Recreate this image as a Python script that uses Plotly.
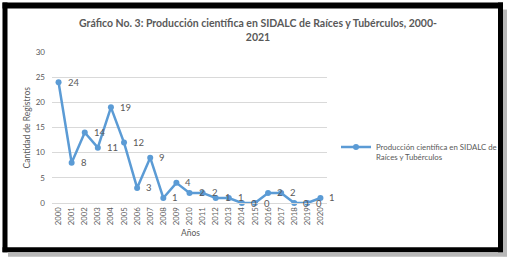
import plotly.graph_objects as go

years = [str(y) for y in range(2000, 2021)]
registros = [24, 8, 14, 11, 19, 12, 3, 9, 1, 4, 2, 2, 1, 1, 0, 0, 2, 2, 0, 0, 1]
series_name = "Producción científica en SIDALC de<br>Raíces y Tubérculos"
title_text = "<b>Gráfico No. 3: Producción científica en SIDALC de Raíces y Tubérculos, 2000-<br>2021</b>"
y_title = "Cantidad de Registros"
x_title = "Años"

W, H = 512, 263
L, R, T, B = 52, 327, 51.5, 202.7
FONT = "Lato"
GRAY = "#595959"
BLUE = "#5B9BD5"

def px(x):
    return (x - L) / (R - L)

def py(y):
    return (B - y) / (B - T)

fig = go.Figure()
fig.add_trace(go.Scatter(
    x=years, y=registros, mode="lines+markers",
    name=series_name,
    line=dict(color=BLUE, width=2.5),
    marker=dict(color=BLUE, size=6),
    cliponaxis=False,
))

annotations = []
for i, v in enumerate(registros):
    annotations.append(dict(x=i, y=v, xref="x", yref="y", text=str(v), showarrow=False,
                            xanchor="left", yanchor="middle", xshift=7,
                            font=dict(family=FONT, size=9.5, color=GRAY)))

def seg(x0, y0, x1, y1, color, width):
    return dict(type="line", xref="paper", yref="paper", x0=px(x0), x1=px(x1), y0=py(y0), y1=py(y1),
                line=dict(color=color, width=width), layer="above")

shapes = [
    seg(505, 9, 505, 256, "#b8b8b8", 4),
    seg(8, 254.5, 507, 254.5, "#b8b8b8", 4),
    seg(2.5, 5, 503, 5, "black", 6),
    seg(2.5, 249.5, 503, 249.5, "black", 5),
    seg(5, 2, 5, 252, "black", 5),
    seg(500.5, 2, 500.5, 252, "black", 5),
]

annotations += [
    dict(text=y_title, xref="paper", yref="paper", x=px(27), y=py(127), textangle=-90,
         showarrow=False, xanchor="center", yanchor="middle",
         font=dict(family=FONT, size=8.5, color=GRAY)),
    dict(text=x_title, xref="paper", yref="paper", x=px(190), y=py(233),
         showarrow=False, xanchor="center", yanchor="middle",
         font=dict(family=FONT, size=8.5, color=GRAY)),
]

fig.update_layout(
    width=W, height=H,
    margin=dict(l=L, r=W - R, t=T, b=H - B, autoexpand=False),
    paper_bgcolor="white", plot_bgcolor="white",
    font=dict(family=FONT, color=GRAY),
    title=dict(text=title_text, x=258 / W, xref="container", xanchor="center",
               y=1 - 27 / H, yref="container", yanchor="middle",
               font=dict(family=FONT, size=10.5, color=GRAY)),
    showlegend=True,
    legend=dict(x=px(336), y=py(135), xanchor="left", yanchor="top", valign="top",
                font=dict(family=FONT, size=7.8, color=GRAY), bgcolor="rgba(0,0,0,0)",
                itemwidth=30),
    xaxis=dict(type="category", range=[-0.5, 20.5], tickangle=-90, showgrid=False,
               showline=True, linecolor="#d9d9d9", linewidth=1, ticks="",
               tickfont=dict(family=FONT, size=7.8, color=GRAY)),
    yaxis=dict(range=[0, 30], dtick=5, showgrid=True, gridcolor="#d9d9d9", gridwidth=1,
               zeroline=False, ticks="", ticklabelstandoff=6,
               tickfont=dict(family=FONT, size=8, color=GRAY)),
    shapes=shapes,
    annotations=annotations,
)

fig.write_html("out.html", config={"displayModeBar": False},
               post_script="document.body.style.margin='0';document.documentElement.style.overflow='hidden';window.scrollTo(0,0);")
